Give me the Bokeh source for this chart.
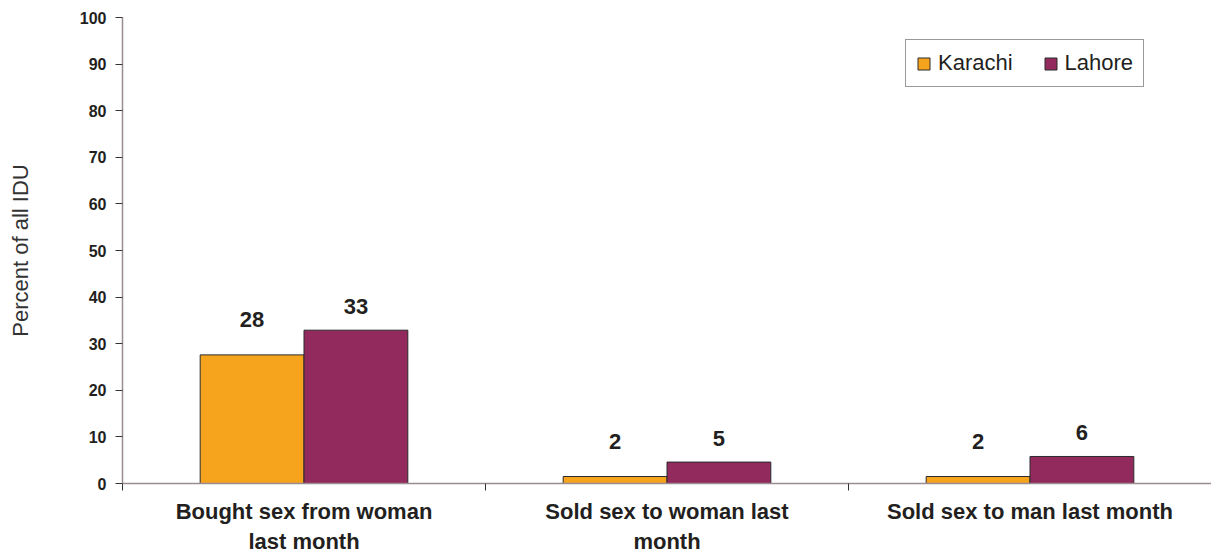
from bokeh.plotting import figure
from bokeh.models import Range1d, FixedTicker, ColumnDataSource, LabelSet, Legend, LegendItem
from bokeh.core.properties import value
from bokeh.embed import file_html
from bokeh.resources import INLINE

# ---- data ----
categories = ["Bought sex from woman\nlast month",
              "Sold sex to woman last\nmonth",
              "Sold sex to man last month"]
karachi = [27.6, 1.5, 1.5]
lahore = [32.9, 4.6, 5.8]
karachi_labels = ["28", "2", "2"]
lahore_labels = ["33", "5", "6"]
y_ticks = [0, 10, 20, 30, 40, 50, 60, 70, 80, 90, 100]

# ---- style ----
FONT = "Liberation Sans"
ORANGE = "#F6A41E"
MAROON = "#922A5E"
AXIS_COL = "#9a8c93"
TXT = "#231f20"

centers = [i + 0.5 for i in range(len(categories))]
bounds = [float(i) for i in range(len(categories) + 1)]
bar_w = 0.286

src_k = ColumnDataSource(dict(x=[c - bar_w / 2 for c in centers], top=karachi, label=karachi_labels))
src_l = ColumnDataSource(dict(x=[c + bar_w / 2 for c in centers], top=lahore, label=lahore_labels))

p = figure(width=1211, height=556, output_backend="svg", toolbar_location=None,
           x_range=Range1d(0, len(categories)), y_range=Range1d(0, 100),
           min_border_left=122, min_border_right=0, min_border_top=17, min_border_bottom=71)
p.outline_line_color = None
p.grid.visible = False
p.background_fill_color = "white"
p.border_fill_color = "white"

rk = p.vbar(x="x", top="top", width=bar_w, bottom=0, source=src_k,
            fill_color=ORANGE, line_color="#2a2a2a", line_width=1)
rl = p.vbar(x="x", top="top", width=bar_w, bottom=0, source=src_l,
            fill_color=MAROON, line_color="#2a2a2a", line_width=1)

p.add_layout(LabelSet(x="x", y="top", text="label", source=src_k, y_offset=35,
                      text_align="center", text_baseline="middle",
                      text_font=value(FONT), text_font_size=value("22px"),
                      text_font_style=value("bold"), text_color=value(TXT)))
p.add_layout(LabelSet(x="x", y="top", text="label", source=src_l, y_offset=24,
                      text_align="center", text_baseline="middle",
                      text_font=value(FONT), text_font_size=value("22px"),
                      text_font_style=value("bold"), text_color=value(TXT)))

# y axis
ya = p.yaxis[0]
ya.ticker = FixedTicker(ticks=y_ticks, minor_ticks=[])
ya.axis_line_color = AXIS_COL
ya.axis_line_width = 1.5
ya.major_tick_line_color = "#333333"
ya.major_tick_out = 7
ya.major_tick_in = 0
ya.minor_tick_line_color = None
ya.major_label_standoff = 9
ya.major_label_text_font = FONT
ya.major_label_text_font_size = "16px"
ya.major_label_text_font_style = "bold"
ya.major_label_text_color = TXT
ya.axis_label = "Percent of all IDU"
ya.axis_label_text_font = FONT
ya.axis_label_text_font_size = "22px"
ya.axis_label_text_font_style = "normal"
ya.axis_label_text_color = "#333333"
ya.axis_label_standoff = 44

# x axis
xa = p.xaxis[0]
xa.ticker = FixedTicker(ticks=centers, minor_ticks=bounds)
xa.major_label_overrides = {c: lab for c, lab in zip(centers, categories)}
xa.axis_line_color = AXIS_COL
xa.axis_line_width = 1.5
xa.major_tick_line_color = None
xa.major_tick_out = 0
xa.major_tick_in = 0
xa.minor_tick_line_color = "#333333"
xa.minor_tick_out = 7
xa.minor_tick_in = 0
xa.major_label_standoff = 8
xa.major_label_text_font = FONT
xa.major_label_text_font_size = "22px"
xa.major_label_text_font_style = "bold"
xa.major_label_text_color = TXT
xa.major_label_text_align = "center"

legend = Legend(items=[LegendItem(label="Karachi", renderers=[rk]),
                       LegendItem(label="Lahore", renderers=[rl])],
                orientation="horizontal", location=(783, 396),
                glyph_width=15, glyph_height=15, label_standoff=7, spacing=30,
                padding=10, margin=0,
                label_text_font=FONT, label_text_font_size="22px",
                label_text_color=TXT,
                border_line_color="#333333", border_line_width=1,
                background_fill_color="white", background_fill_alpha=1)
p.add_layout(legend)

open("out.html", "w").write(file_html(p, INLINE))
